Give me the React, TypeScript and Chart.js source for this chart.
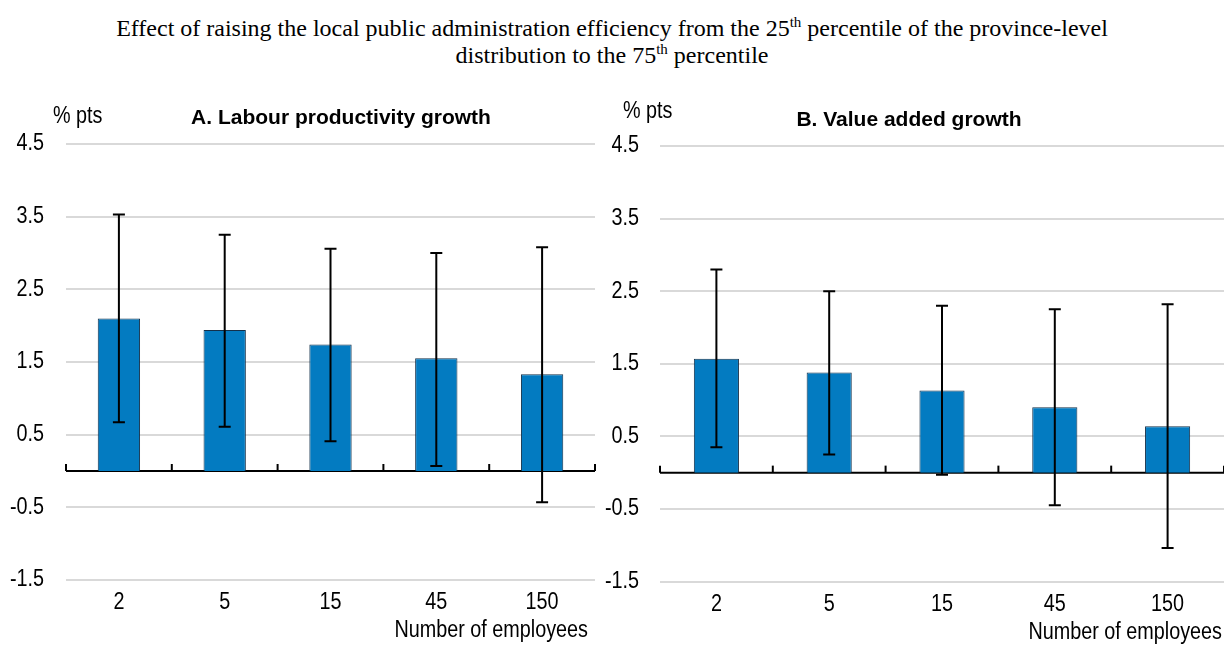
import React, { useEffect, useRef } from "react";
import { Chart, registerables } from "chart.js";

Chart.register(...registerables);

// ---------- data ----------
const categories = ["2", "5", "15", "45", "150"];
const yTickValues = [-1.5, -0.5, 0.5, 1.5, 2.5, 3.5, 4.5];

const labourValues = [2.1, 1.94, 1.74, 1.55, 1.33];
const labourHigh = [3.53, 3.25, 3.06, 3.0, 3.08];
const labourLow = [0.67, 0.61, 0.41, 0.07, -0.43];

const valueAddedValues = [1.57, 1.38, 1.13, 0.9, 0.64];
const valueAddedHigh = [2.8, 2.5, 2.3, 2.25, 2.32];
const valueAddedLow = [0.35, 0.25, -0.03, -0.45, -1.04];

const panelATitle = "A. Labour productivity growth";
const panelBTitle = "B. Value added growth";
const unitLabel = "% pts";
const xAxisTitle = "Number of employees";

// ---------- styles ----------
const W = 1224;
const H = 645;
const SANS = "'Liberation Sans', Arial, sans-serif";
const NARROW_SIZE = 23;
const NARROW_SCALE = 0.86;
const BAR_COLOR = "#037BC1";
const GRID_COLOR = "#d9d9d9";

function narrowText(ctx: any, text: string, x: number, y: number, align: string) {
  ctx.save();
  ctx.translate(x, y);
  ctx.scale(NARROW_SCALE, 1);
  ctx.font = `${NARROW_SIZE}px ${SANS}`;
  ctx.textAlign = align;
  ctx.fillText(text, 0, 0);
  ctx.restore();
}

type PanelProps = {
  values: number[];
  high: number[];
  low: number[];
  title: string;
  padLeft: number;
  padRight: number;
  padTop: number;
  yWidth: number;
  xHeight: number;
  yLabelGap: number;
  unitX: number;
  unitY: number;
  titleX: number;
  titleY: number;
  xTitleRight: number;
  xTitleY: number;
  xLabelY: number;
};

function Panel(p: PanelProps) {
  const ref = useRef<HTMLCanvasElement | null>(null);
  useEffect(() => {
    if (!ref.current) return;
    const overlay = {
      id: "overlay",
      beforeDatasetsDraw(chart: any) {
        const { ctx, chartArea, scales } = chart;
        const y0 = scales.y.getPixelForValue(0);
        ctx.save();
        ctx.strokeStyle = "#000";
        ctx.lineWidth = 2;
        ctx.beginPath();
        ctx.moveTo(chartArea.left, y0);
        ctx.lineTo(chartArea.right, y0);
        ctx.stroke();
        const step = scales.x.getPixelForValue(1) - scales.x.getPixelForValue(0);
        ctx.lineWidth = 2;
        for (let i = 0; i <= categories.length; i++) {
          const x = scales.x.getPixelForValue(0) + (i - 0.5) * step;
          ctx.beginPath();
          ctx.moveTo(x, y0);
          ctx.lineTo(x, y0 - 7);
          ctx.stroke();
        }
        ctx.restore();
      },
      afterDatasetsDraw(chart: any) {
        const { ctx, scales } = chart;
        ctx.save();
        ctx.strokeStyle = "#000";
        ctx.lineWidth = 2;
        for (let i = 0; i < p.values.length; i++) {
          const x = scales.x.getPixelForValue(i);
          const yh = scales.y.getPixelForValue(p.high[i]);
          const yl = scales.y.getPixelForValue(p.low[i]);
          ctx.beginPath();
          ctx.moveTo(x, yh);
          ctx.lineTo(x, yl);
          ctx.moveTo(x - 6, yh);
          ctx.lineTo(x + 6, yh);
          ctx.moveTo(x - 6, yl);
          ctx.lineTo(x + 6, yl);
          ctx.stroke();
        }
        ctx.restore();
      },
      afterDraw(chart: any) {
        const { ctx, chartArea, scales } = chart;
        ctx.save();
        ctx.fillStyle = "#000";
        // y tick labels
        ctx.textBaseline = "middle";
        for (const v of yTickValues) {
          narrowText(ctx, v.toFixed(1), chartArea.left - p.yLabelGap, scales.y.getPixelForValue(v), "right");
        }
        // x tick labels
        ctx.textBaseline = "alphabetic";
        categories.forEach((c, i) => {
          narrowText(ctx, c, scales.x.getPixelForValue(i), p.xLabelY, "center");
        });
        narrowText(ctx, xAxisTitle, p.xTitleRight, p.xTitleY, "right");
        ctx.textBaseline = "middle";
        narrowText(ctx, unitLabel, p.unitX, p.unitY, "left");
        ctx.font = `bold 21px ${SANS}`;
        ctx.textAlign = "center";
        ctx.fillText(p.title, p.titleX, p.titleY);
        ctx.restore();
      },
    };

    const chart = new Chart(ref.current, {
      type: "bar",
      data: {
        labels: categories,
        datasets: [
          {
            data: p.values,
            backgroundColor: BAR_COLOR,
            borderColor: "#14304a",
            borderWidth: 1,
            barPercentage: 0.4,
            categoryPercentage: 1,
          },
        ],
      },
      options: {
        animation: false,
        responsive: false,
        devicePixelRatio: 1,
        layout: {
          padding: { left: p.padLeft, right: p.padRight, top: p.padTop, bottom: 0 },
        },
        plugins: {
          legend: { display: false },
          tooltip: { enabled: false },
          title: { display: false },
        },
        scales: {
          x: {
            offset: true,
            grid: { display: false, drawTicks: false },
            border: { display: false },
            ticks: { display: false },
            afterFit(scale: any) {
              scale.height = p.xHeight;
            },
          },
          y: {
            min: -1.5,
            max: 4.5,
            afterBuildTicks(scale: any) {
              scale.ticks = yTickValues.map((v) => ({ value: v }));
            },
            afterFit(scale: any) {
              scale.width = p.yWidth;
            },
            grid: { color: GRID_COLOR, lineWidth: 2, drawTicks: false },
            border: { display: false },
            ticks: { display: false },
          },
        },
      },
      plugins: [overlay],
    } as any);
    return () => chart.destroy();
  }, []);
  return (
    <canvas
      ref={ref}
      width={W}
      height={H}
      style={{ position: "absolute", left: 0, top: 0, width: W, height: H }}
    />
  );
}

const supStyle: React.CSSProperties = {
  fontSize: 15,
  lineHeight: 0,
  position: "relative",
  top: -9,
  verticalAlign: "baseline",
  color: "#000",
};

export default function App() {
  return (
    <div style={{ position: "absolute", left: 0, top: 0, width: W, height: H, background: "#fff", overflow: "hidden" }}>
      <div
        style={{
          position: "absolute",
          left: 0,
          top: 15,
          width: W,
          textAlign: "center",
          fontFamily: "'Liberation Serif', 'Times New Roman', serif",
          fontSize: 24,
          lineHeight: "27px",
          color: "#000",
        }}
      >
        Effect of raising the local public administration efficiency from the 25
        <span style={supStyle}>th</span> percentile of the province-level
        <br />
        distribution to the 75<span style={supStyle}>th</span> percentile
      </div>
      <Panel
        values={labourValues}
        high={labourHigh}
        low={labourLow}
        title={panelATitle}
        padLeft={0}
        padRight={W - 595}
        padTop={144}
        yWidth={66}
        xHeight={65}
        yLabelGap={22}
        unitX={53}
        unitY={117}
        titleX={341}
        titleY={118}
        xTitleRight={588}
        xTitleY={637}
        xLabelY={609}
      />
      <Panel
        values={valueAddedValues}
        high={valueAddedHigh}
        low={valueAddedLow}
        title={panelBTitle}
        padLeft={600}
        padRight={0}
        padTop={146}
        yWidth={60}
        xHeight={63.5}
        yLabelGap={21}
        unitX={623}
        unitY={112}
        titleX={909}
        titleY={120}
        xTitleRight={1222}
        xTitleY={639}
        xLabelY={611}
      />
    </div>
  );
}
